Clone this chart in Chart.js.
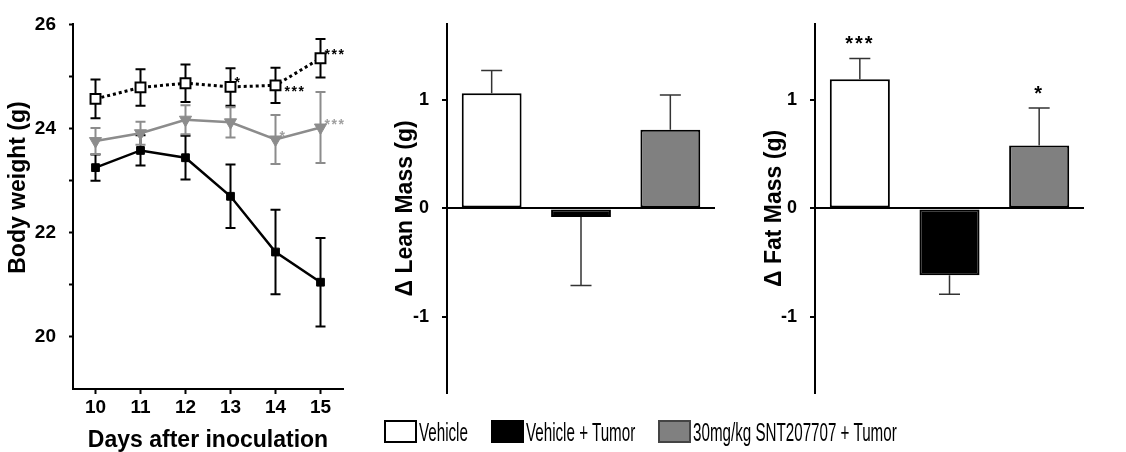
<!DOCTYPE html>
<html>
<head>
<meta charset="utf-8">
<script src="https://cdn.jsdelivr.net/npm/chart.js@4.4.0/dist/chart.umd.min.js"></script>
<style>
  body { margin: 0; background: #fff; width: 1126px; height: 452px; overflow: hidden; position: relative;
         font-family: "Liberation Sans", Arial, sans-serif; }
  canvas { position: absolute; top: 0; }
  #weightChart { left: 0; }
  #leanChart { left: 380px; }
  #fatChart { left: 760px; }
  .swatch { position: absolute; top: 420px; width: 29px; height: 19px; border: 2px solid #000; }
  .label { position: absolute; top: 418px; font-size: 25px; line-height: 28px; white-space: nowrap;
           transform: scaleX(0.607); transform-origin: left center; color: #000; }
</style>
</head>
<body>
<canvas id="weightChart" width="360" height="452"></canvas>
<canvas id="leanChart" width="360" height="452"></canvas>
<canvas id="fatChart" width="366" height="452"></canvas>
<div id="legend"></div>

<script>
// body weight over time (mean, SEM)
const days = [10, 11, 12, 13, 14, 15];
const vehicleWeight = [24.57, 24.79, 24.87, 24.80, 24.83, 25.35];
const vehicleWeightErr = [0.37, 0.35, 0.36, 0.36, 0.34, 0.37];
const tumorWeight = [23.25, 23.58, 23.44, 22.70, 21.63, 21.05];
const tumorWeightErr = [0.25, 0.29, 0.42, 0.61, 0.81, 0.85];
const drugWeight = [23.76, 23.91, 24.17, 24.12, 23.79, 24.02];
const drugWeightErr = [0.25, 0.22, 0.28, 0.29, 0.47, 0.68];
const vehicleStars = ["", "", "", "*", "***", "***"];
const drugStars = ["", "", "", "", "*", "***"];
const weightTicks = [20, 21, 22, 23, 24, 25, 26];
const weightLabels = ["20", "", "22", "", "24", "", "26"];

// change in body composition
const groups = ["Vehicle", "Vehicle + Tumor", "30mg/kg SNT207707 + Tumor"];
const leanMass = [1.06, -0.08, 0.725];
const leanMassErr = [0.21, 0.63, 0.32];
const leanStars = ["", "", ""];
const fatMass = [1.19, -0.615, 0.58];
const fatMassErr = [0.19, 0.175, 0.345];
const fatStars = ["***", "", "*"];
const massTicks = [-1, 0, 1];

const barColors = ["#ffffff", "#000000", "#808080"];
const legendX = [384, 491, 658];

// star placement next to the line points (dx, dy in px)
const vehicleStarOffsets = [null, null, null, [4, -8], [9, 3], [4, -7]];
const drugStarOffsets = [null, null, null, null, [4, -7], [4, -7]];

function valueAt(ds, j) {
    const d = ds.data[j];
    return typeof d === "object" ? d.y : d;
}

function drawErrors(chart) {
    const ctx = chart.ctx;
    const yScale = chart.scales.y;
    chart.data.datasets.forEach((ds, i) => {
        if (!ds.errors) return;
        const meta = chart.getDatasetMeta(i);
        ctx.save();
        ctx.strokeStyle = ds.errorColor;
        ctx.lineWidth = ds.errorWidth;
        meta.data.forEach((el, j) => {
            const v = valueAt(ds, j);
            const e = ds.errors[j];
            const x = el.x;
            const half = ds.capWidth / 2;
            const ends = ds.oneSided ? [v + Math.sign(v) * e] : [v - e, v + e];
            const y0 = yScale.getPixelForValue(ds.oneSided ? v : v - e);
            const y1 = yScale.getPixelForValue(ds.oneSided ? ends[0] : v + e);
            ctx.beginPath();
            ctx.moveTo(x, y0);
            ctx.lineTo(x, y1);
            ends.forEach(end => {
                const yy = yScale.getPixelForValue(end);
                ctx.moveTo(x - half, yy);
                ctx.lineTo(x + half, yy);
            });
            ctx.stroke();
        });
        ctx.restore();
    });
}

function drawStars(chart) {
    const ctx = chart.ctx;
    const yScale = chart.scales.y;
    chart.data.datasets.forEach((ds, i) => {
        if (!ds.stars) return;
        const meta = chart.getDatasetMeta(i);
        ctx.save();
        ctx.fillStyle = ds.starColor;
        ctx.font = "bold " + ds.starSize + "px 'Liberation Sans', Arial, sans-serif";
        ctx.letterSpacing = ds.starSpacing + "px";
        ctx.textBaseline = "alphabetic";
        meta.data.forEach((el, j) => {
            const s = ds.stars[j];
            if (!s) return;
            let cx, cy;
            if (ds.starOffsets) {
                const off = ds.starOffsets[j];
                ctx.textAlign = "left";
                cx = el.x + off[0];
                cy = el.y + off[1];
            } else {
                const v = valueAt(ds, j);
                ctx.textAlign = "center";
                cx = el.x;
                cy = yScale.getPixelForValue(v + Math.sign(v) * ds.errors[j]) - 20;
            }
            ctx.fillText(s, cx, cy + 0.58 * ds.starSize);
        });
        ctx.restore();
    });
}

const errorPluginBelow = { id: "errorBelow", beforeDatasetsDraw(chart) { if (chart.config.type === "line") drawErrors(chart); } };
const errorPluginAbove = { id: "errorAbove", afterDatasetsDraw(chart) { if (chart.config.type === "bar") drawErrors(chart); drawStars(chart); } };

Chart.defaults.font.family = "'Liberation Sans', Arial, sans-serif";
Chart.defaults.color = "#000";

const pts = arr => days.map((d, i) => ({ x: d, y: arr[i] }));

new Chart(document.getElementById("weightChart"), {
    type: "line",
    data: {
        datasets: [
            {
                label: "Vehicle", data: pts(vehicleWeight),
                borderColor: "#000", borderWidth: 3, borderDash: [3, 3],
                pointStyle: "rect", pointRadius: 7, pointBorderWidth: 2,
                pointBackgroundColor: "#fff", pointBorderColor: "#000",
                errors: vehicleWeightErr, errorColor: "#000", errorWidth: 2, capWidth: 10,
                stars: vehicleStars, starColor: "#000", starSize: 14, starSpacing: 1.5, starOffsets: vehicleStarOffsets
            },
            {
                label: "Vehicle + Tumor", data: pts(tumorWeight),
                borderColor: "#000", borderWidth: 2.5,
                pointStyle: "rect", pointRadius: 5.5, pointBorderWidth: 1,
                pointBackgroundColor: "#000", pointBorderColor: "#000",
                errors: tumorWeightErr, errorColor: "#000", errorWidth: 2, capWidth: 10
            },
            {
                label: "30mg/kg SNT207707 + Tumor", data: pts(drugWeight),
                borderColor: "#8c8c8c", borderWidth: 2.5,
                pointStyle: "triangle", pointRotation: 180, pointRadius: 7, pointBorderWidth: 1,
                pointBackgroundColor: "#8c8c8c", pointBorderColor: "#8c8c8c",
                errors: drugWeightErr, errorColor: "#8c8c8c", errorWidth: 2, capWidth: 10,
                stars: drugStars, starColor: "#a0a0a0", starSize: 14, starSpacing: 1.5, starOffsets: drugStarOffsets
            }
        ]
    },
    options: {
        responsive: false, animation: false, events: [],
        layout: { padding: { top: 16, right: 17, left: 0, bottom: 0 } },
        plugins: { legend: { display: false }, tooltip: { enabled: false } },
        scales: {
            x: {
                type: "linear", min: 9.5, max: 15.5,
                afterBuildTicks: s => { s.ticks = days.map(v => ({ value: v })); },
                afterFit: s => { s.height = 63; },
                ticks: { font: { size: 19, weight: "bold" }, color: "#000", padding: 2 },
                grid: { display: true, drawOnChartArea: false, drawTicks: true, tickLength: 5, tickColor: "#000", tickWidth: 2 },
                border: { display: true, color: "#000", width: 2 },
                title: { display: true, text: "Days after inoculation", color: "#000",
                         font: { size: 23, weight: "bold", lineHeight: 1 }, padding: { top: 0, bottom: 0 } }
            },
            y: {
                min: 19, max: 26,
                afterBuildTicks: s => { s.ticks = weightTicks.map(v => ({ value: v })); },
                afterFit: s => { s.width = 73; },
                ticks: { font: { size: 19, weight: "bold" }, color: "#000", padding: 13,
                         callback: (v, i) => weightLabels[i] },
                grid: { display: true, drawOnChartArea: false, drawTicks: true, tickLength: 4, tickColor: "#000", tickWidth: 2 },
                border: { display: true, color: "#000", width: 2 },
                title: { display: true, text: "\u00a0\u00a0\u00a0\u00a0\u00a0\u00a0Body weight (g)", color: "#000",
                         font: { size: 23, weight: "bold" }, padding: { top: 5, bottom: 0 } }
            }
        }
    },
    plugins: [errorPluginBelow, errorPluginAbove]
});

function massChart(id, values, errs, stars, title, axisWidth, padRight, titlePad) {
    return new Chart(document.getElementById(id), {
        type: "bar",
        data: {
            labels: groups,
            datasets: [{
                data: values,
                backgroundColor: barColors, borderColor: "#000", borderWidth: 2, borderSkipped: false,
                barPercentage: 0.67, categoryPercentage: 1,
                errors: errs, oneSided: true, errorColor: "#333", errorWidth: 1.5, capWidth: 21,
                stars: stars, starColor: "#000", starSize: 20, starSpacing: 2
            }]
        },
        options: {
            responsive: false, animation: false, events: [],
            layout: { padding: { top: 20, right: padRight, left: 0, bottom: 59 } },
            plugins: { legend: { display: false }, tooltip: { enabled: false } },
            scales: {
                x: { display: false },
                y: {
                    min: -1.7, max: 1.7,
                    afterBuildTicks: s => { s.ticks = massTicks.map(v => ({ value: v })); },
                    afterFit: s => { s.width = axisWidth; },
                    ticks: { font: { size: 18, weight: "bold" }, color: "#000", padding: 13 },
                    grid: {
                        display: true, drawOnChartArea: true, drawTicks: true, tickLength: 5,
                        color: c => (c.tick && c.tick.value === 0 ? "#000" : "rgba(0,0,0,0)"),
                        lineWidth: 2, tickColor: "#000", tickWidth: 2
                    },
                    border: { display: true, color: "#000", width: 2 },
                    title: { display: true, text: title, color: "#000",
                             font: { size: 23, weight: "bold" }, padding: { top: titlePad, bottom: 0 } }
                }
            }
        },
        plugins: [errorPluginBelow, errorPluginAbove]
    });
}

massChart("leanChart", leanMass, leanMassErr, leanStars, "\u0394 Lean Mass (g)", 67, 25, 12);
massChart("fatChart", fatMass, fatMassErr, fatStars, "\u0394 Fat Mass (g)", 55, 42, 1);

// legend
const legend = document.getElementById("legend");
groups.forEach((g, i) => {
    const sw = document.createElement("div");
    sw.className = "swatch";
    sw.style.left = legendX[i] + "px";
    sw.style.background = barColors[i];
    if (i === 2) sw.style.borderColor = "#444";
    legend.appendChild(sw);
    const lb = document.createElement("div");
    lb.className = "label";
    lb.style.left = (legendX[i] + 35) + "px";
    lb.textContent = g;
    legend.appendChild(lb);
});
</script>
</body>
</html>
